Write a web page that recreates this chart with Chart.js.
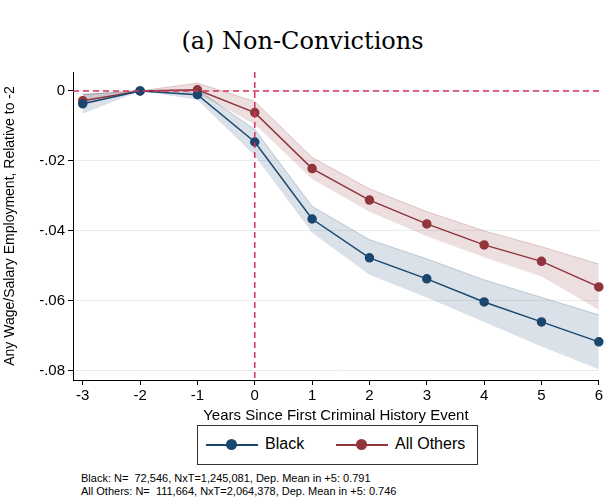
<!DOCTYPE html>
<html>
<head>
<meta charset="utf-8">
<script src="https://cdn.jsdelivr.net/npm/chart.js@4"></script>
<style>
  body { margin: 0; background: #fff; width: 605px; height: 501px; position: relative; overflow: hidden; }
  #title { position: absolute; top: 27px; left: 0; width: 605px; text-align: center; font-family: "DejaVu Serif", serif; font-size: 24px; }
  #wrap { position: absolute; left: 0; top: 0; width: 605px; height: 425px; }
  #legend { position: absolute; left: 197px; top: 425px; width: 279px; height: 38px; border: 1px solid #333; font-family: "Liberation Sans", Arial, sans-serif; font-size: 16px; }
  .item { position: absolute; top: 9px; }
  .key { position: absolute; top: 9px; width: 52px; height: 2px; }
  .key span { position: absolute; left: 20px; top: -5px; width: 11px; height: 11px; border-radius: 50%; }
  #notes { position: absolute; left: 81px; top: 472px; font-family: "Liberation Sans", Arial, sans-serif; font-size: 11px; line-height: 13px; }
</style>
</head>
<body>
<div id="title">(a) Non-Convictions</div>
<div id="wrap"><canvas id="chart"></canvas></div>
<div id="legend">
  <div class="key" style="left:8px;top:18px;background:#1a476f"><span style="background:#1a476f"></span></div>
  <div class="item" style="left:67px">Black</div>
  <div class="key" style="left:138px;top:18px;background:#90353b"><span style="background:#90353b"></span></div>
  <div class="item" style="left:197px">All Others</div>
</div>
<div id="notes">Black: N=&nbsp; 72,546, NxT=1,245,081, Dep. Mean in +5: 0.791<br>All Others: N=&nbsp; 111,664, NxT=2,064,378, Dep. Mean in +5: 0.746</div>
<script>
// Data
const years = [-3, -2, -1, 0, 1, 2, 3, 4, 5, 6];
const black = [-0.0037, 0, -0.0011, -0.0146, -0.0366, -0.0477, -0.0537, -0.0603, -0.066, -0.0717];
const blackLo = [-0.0065, 0, -0.0025, -0.0185, -0.0405, -0.0525, -0.059, -0.066, -0.073, -0.0795];
const blackHi = [-0.001, 0, 0.0003, -0.011, -0.033, -0.0425, -0.048, -0.054, -0.059, -0.064];
const others = [-0.0028, 0, 0.0003, -0.0062, -0.0222, -0.0312, -0.038, -0.044, -0.0487, -0.056];
const othersLo = [-0.004, 0, -0.0007, -0.0095, -0.0252, -0.0345, -0.0415, -0.0475, -0.053, -0.0625];
const othersHi = [-0.001, 0, 0.0022, -0.003, -0.019, -0.028, -0.0345, -0.040, -0.0445, -0.0495];
const yTicks = [0, -0.02, -0.04, -0.06, -0.08];
const yTickLabels = ['0', '-.02', '-.04', '-.06', '-.08'];

const pts = arr => arr.map((v, i) => ({ x: years[i], y: v }));

function band(lo, hi, color) {
    return [
        { data: pts(lo), borderWidth: 0, pointRadius: 0, fill: false, order: 3 },
        { data: pts(hi), borderColor: color.line, borderWidth: 1, pointRadius: 0, fill: '-1', backgroundColor: color.fill, order: 3 }
    ];
}

// Dashed reference lines at x=0 and y=0
const refLines = {
    id: 'refLines',
    afterDatasetsDraw(chart) {
        const { ctx, chartArea, scales } = chart;
        ctx.save();
        ctx.strokeStyle = '#d9325a';
        ctx.lineWidth = 1.5;
        ctx.setLineDash([6, 4]);
        const x0 = scales.x.getPixelForValue(0);
        const y0 = scales.y.getPixelForValue(0);
        ctx.beginPath();
        ctx.moveTo(x0, chartArea.top); ctx.lineTo(x0, chartArea.bottom);
        ctx.moveTo(chartArea.left, y0); ctx.lineTo(chartArea.right + 4, y0);
        ctx.stroke();
        ctx.restore();
    }
};

new Chart(document.getElementById('chart'), {
    type: 'line',
    data: {
        datasets: [
            ...band(blackLo, blackHi, { line: 'rgba(26,71,111,0.25)', fill: 'rgba(26,71,111,0.16)' }),
            ...band(othersLo, othersHi, { line: 'rgba(144,53,59,0.25)', fill: 'rgba(144,53,59,0.16)' }),
            { data: pts(black), borderColor: '#1a476f', backgroundColor: '#1a476f', borderWidth: 1.5, pointRadius: 4, fill: false, order: 1 },
            { data: pts(others), borderColor: '#90353b', backgroundColor: '#90353b', borderWidth: 1.5, pointRadius: 4, fill: false, order: 1 }
        ]
    },
    options: {
        responsive: true,
        maintainAspectRatio: false,
        animation: false,
        clip: false,
        layout: { padding: { top: 72, right: 1 } },
        plugins: { legend: { display: false }, tooltip: { enabled: false } },
        scales: {
            x: {
                type: 'linear', min: -3.17, max: 6,
                afterBuildTicks: s => { s.ticks = years.map(v => ({ value: v })); },
                afterFit: s => { s.height = 45; },
                grid: { drawOnChartArea: false, drawTicks: true, tickColor: '#000', tickLength: 5 },
                border: { color: '#000' },
                ticks: { color: '#000', font: { family: 'Liberation Sans', size: 15 }, padding: 2 },
                title: { display: true, text: 'Years Since First Criminal History Event', color: '#000', font: { family: 'Liberation Sans', size: 15 }, padding: 0 }
            },
            y: {
                min: -0.0826, max: 0.0054,
                afterBuildTicks: s => { s.ticks = yTicks.map(v => ({ value: v })); },
                afterFit: s => { s.width = 73; },
                grid: { color: '#e6eeee', drawTicks: true, tickColor: '#000', tickLength: 5 },
                border: { color: '#000' },
                ticks: { color: '#000', font: { family: 'Liberation Sans', size: 15 }, callback: (v) => yTickLabels[yTicks.indexOf(v)] ?? '' },
                title: { display: true, text: 'Any Wage/Salary Employment, Relative to -2', color: '#000', font: { family: 'Liberation Sans', size: 14 }, padding: 2 }
            }
        }
    },
    plugins: [refLines]
});
</script>
</body>
</html>
